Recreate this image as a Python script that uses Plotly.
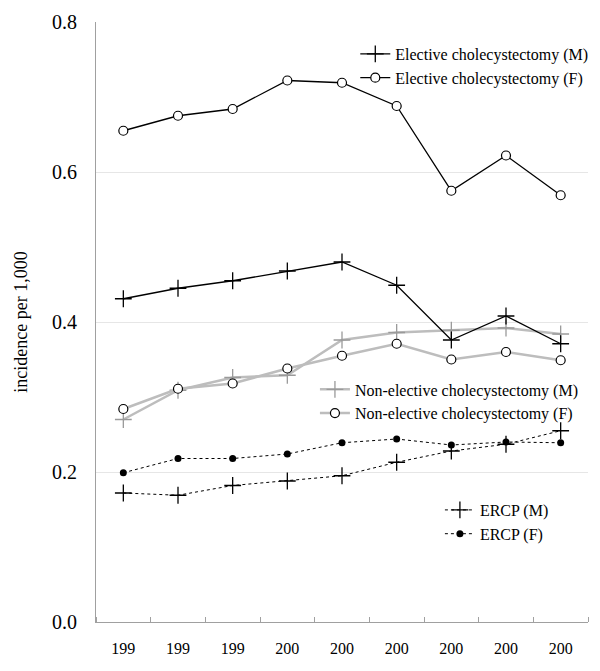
import plotly.graph_objects as go

# --- Data ---
years = [1997, 1998, 1999, 2000, 2001, 2002, 2003, 2004, 2005]
tick_labels = ["199", "199", "199", "200", "200", "200", "200", "200", "200"]

elective_m = [0.431, 0.445, 0.455, 0.468, 0.480, 0.449, 0.376, 0.408, 0.371]
elective_f = [0.655, 0.675, 0.684, 0.722, 0.719, 0.688, 0.575, 0.622, 0.569]
nonelective_m = [0.270, 0.309, 0.326, 0.329, 0.376, 0.386, 0.389, 0.392, 0.384]
nonelective_f = [0.284, 0.311, 0.318, 0.338, 0.355, 0.371, 0.350, 0.360, 0.349]
ercp_m = [0.172, 0.169, 0.182, 0.188, 0.195, 0.213, 0.228, 0.237, 0.255]
ercp_f = [0.199, 0.218, 0.218, 0.224, 0.239, 0.244, 0.236, 0.240, 0.239]

FONT = "Liberation Serif"
GREY = "#bdbdbd"

fig = go.Figure()

# non-elective (grey) drawn first
fig.add_scatter(x=years, y=nonelective_m, name="Non-elective cholecystectomy (M)",
                mode="lines+markers", legend="legend2",
                line=dict(color=GREY, width=2.5),
                marker=dict(symbol="cross-thin", size=12, line=dict(color="#9a9a9a", width=1.3)))
fig.add_scatter(x=years, y=nonelective_f, name="Non-elective cholecystectomy (F)",
                mode="lines+markers", legend="legend2",
                line=dict(color=GREY, width=2.5),
                marker=dict(symbol="circle", size=9, color="white", line=dict(color="black", width=1.2)))

# ERCP (dotted)
fig.add_scatter(x=years, y=ercp_m, name="ERCP (M)", mode="lines+markers", legend="legend3",
                line=dict(color="black", width=1, dash="dot"),
                marker=dict(symbol="cross-thin", size=12, line=dict(color="black", width=1.3)))
fig.add_scatter(x=years, y=ercp_f, name="ERCP (F)", mode="lines+markers", legend="legend3",
                line=dict(color="black", width=1, dash="dot"),
                marker=dict(symbol="circle", size=7, color="black"))

# elective (black)
fig.add_scatter(x=years, y=elective_m, name="Elective cholecystectomy (M)",
                mode="lines+markers", legend="legend",
                line=dict(color="black", width=1.3),
                marker=dict(symbol="cross-thin", size=12, line=dict(color="black", width=1.3)))
fig.add_scatter(x=years, y=elective_f, name="Elective cholecystectomy (F)",
                mode="lines+markers", legend="legend",
                line=dict(color="black", width=1.3),
                marker=dict(symbol="circle", size=9, color="white", line=dict(color="black", width=1.2)))

leg_style = dict(font=dict(family=FONT, size=16, color="black"), bgcolor="rgba(0,0,0,0)",
                 xanchor="left", yanchor="top", tracegroupgap=0, itemwidth=30)

# page body keeps an 8px margin, so the figure is made 8px smaller
fig.update_layout(
    width=592, height=663,
    margin=dict(l=88, r=12, t=14, b=49, autoexpand=False),
    plot_bgcolor="white", paper_bgcolor="white",
    font=dict(family=FONT, color="black"),
    legend=dict(x=0.527, y=0.975, **leg_style),
    legend2=dict(x=0.445, y=0.416, **leg_style),
    legend3=dict(x=0.699, y=0.215, **leg_style),
    showlegend=True,
)

fig.update_xaxes(
    range=[1996.5, 2005.5], tickvals=years, ticktext=tick_labels, automargin=False,
    ticks="", showgrid=False, zeroline=False,
    showline=True, linecolor="#a0a0a0", linewidth=1,
    tickfont=dict(family=FONT, size=16, color="black"), ticklabelstandoff=12,
    minor=dict(tick0=1996.5, dtick=1, ticks="inside", ticklen=5, tickcolor="#a0a0a0", showgrid=False),
)
fig.update_yaxes(
    range=[0, 0.8], dtick=0.2, tickformat=".1f", automargin=False,
    showgrid=True, gridcolor="#e6e6e6", zeroline=False,
    showline=True, linecolor="#a0a0a0", linewidth=1,
    tickfont=dict(family=FONT, size=20, color="black"), ticklabelstandoff=14,
    title=dict(text="incidence per 1,000", font=dict(family=FONT, size=18), standoff=19),
)

fig.write_html("out.html")
